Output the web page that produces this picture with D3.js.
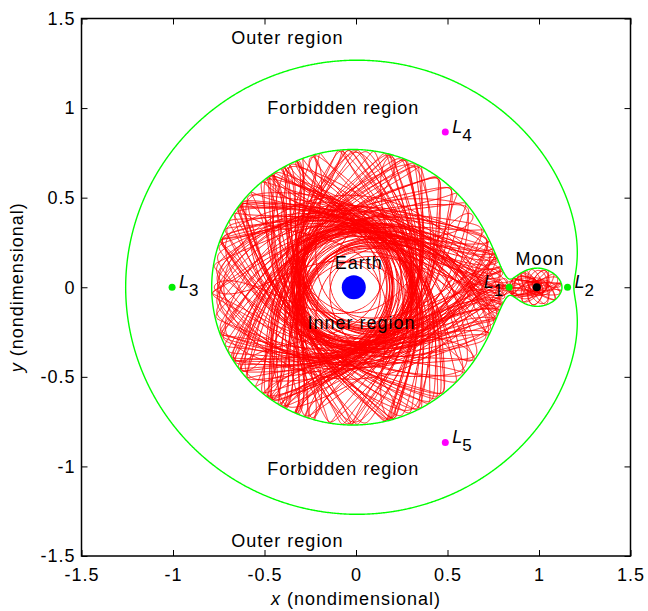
<!DOCTYPE html>
<html>
<head>
<meta charset="utf-8">
<script src="https://cdn.jsdelivr.net/npm/d3@7"></script>
<style>
  body { margin: 0; background: #fff; }
  svg text { font-family: Arial, "Liberation Sans", sans-serif; fill: #000; }
</style>
</head>
<body>
<svg id="chart" width="648" height="611"></svg>
<script>
// Earth-Moon mass ratio and the Jacobi constant of the orbit (between C2 and C1)
const mu = 0.01215;
const jacobi = 3.18;
// orbit start: x, y, direction of the velocity in degrees (speed comes from jacobi)
const orbitStart = [0.6, 0, 60];
const orbitTime = 1000;

const xTicks = [-1.5, -1, -0.5, 0, 0.5, 1, 1.5];
const yTicks = [-1.5, -1, -0.5, 0, 0.5, 1, 1.5];

const bodyNames = ["Earth", "Moon"];
const bodyX = [-0.01215, 0.98785];
const bodyY = [0, 0];

const libNames = ["1", "2", "3", "4", "5"];
const libX = [0.837, 1.156, -1.005, 0.488, 0.488];
const libY = [0, 0, 0, 0.866, -0.866];

const labelText = ["Outer region", "Forbidden region", "Earth", "Inner region", "Moon", "Forbidden region", "Outer region"];
const labelX = [-0.375, -0.07, 0.015, 0.03, 1.005, -0.07, -0.375];
const labelY = [1.36, 0.965, 0.1, -0.235, 0.125, -1.05, -1.45];

const svg = d3.select("#chart");

const xScale = d3.scaleLinear([-1.5, 1.5], [81.5, 630.5]);
const yScale = d3.scaleLinear([-1.5, 1.5], [556, 18.5]);

// effective potential, 2*Omega
function omega2(x, y) {
  const r1 = Math.max(Math.hypot(x + mu, y), 1e-6);
  const r2 = Math.max(Math.hypot(x - 1 + mu, y), 1e-6);
  return x * x + y * y + 2 * (1 - mu) / r1 + 2 * mu / r2;
}

function deriv(s) {
  const x = s[0], y = s[1], vx = s[2], vy = s[3];
  const r1 = Math.hypot(x + mu, y), r2 = Math.hypot(x - 1 + mu, y);
  const a = (1 - mu) / (r1 * r1 * r1), b = mu / (r2 * r2 * r2);
  return [vx, vy,
    2 * vy + x - a * (x + mu) - b * (x - 1 + mu),
    -2 * vx + y - a * y - b * y];
}

function rk4(s, h) {
  const k1 = deriv(s);
  const k2 = deriv(s.map((v, i) => v + h / 2 * k1[i]));
  const k3 = deriv(s.map((v, i) => v + h / 2 * k2[i]));
  const k4 = deriv(s.map((v, i) => v + h * k3[i]));
  return s.map((v, i) => v + h / 6 * (k1[i] + 2 * k2[i] + 2 * k3[i] + k4[i]));
}

// integrate the spacecraft orbit in the rotating frame
const speed = Math.sqrt(omega2(orbitStart[0], orbitStart[1]) - jacobi);
const ang = orbitStart[2] * Math.PI / 180;
let state = [orbitStart[0], orbitStart[1], speed * Math.cos(ang), speed * Math.sin(ang)];
const orbit = [[state[0], state[1]]];
let t = 0, steps = 0;
while (t < orbitTime && steps < 2000000) {
  const r1 = Math.hypot(state[0] + mu, state[1]), r2 = Math.hypot(state[0] - 1 + mu, state[1]);
  if (r1 < 0.02 || r2 < 0.005) break;
  const h = Math.min(0.01, 0.05 * Math.pow(Math.min(r1, r2), 1.5));
  state = rk4(state, h);
  t += h; steps++;
  const last = orbit[orbit.length - 1];
  if (Math.hypot(state[0] - last[0], state[1] - last[1]) > 0.002) orbit.push([state[0], state[1]]);
}

const line = d3.line().x(d => xScale(d[0])).y(d => yScale(d[1]));

svg.append("path")
  .attr("d", line(orbit))
  .attr("fill", "none")
  .attr("stroke", "#ff0000")
  .attr("stroke-width", 0.9);

// zero velocity curves: boundary of the forbidden region 2*Omega < C
const n = 601, step = 3 / (n - 1);
const grid = new Float64Array(n * n);
for (let j = 0; j < n; j++) {
  for (let i = 0; i < n; i++) {
    grid[j * n + i] = -omega2(-1.5 + i * step, -1.5 + j * step);
  }
}
const forbidden = d3.contours().size([n, n]).thresholds([-jacobi])(grid)[0];
const toData = p => [-1.5 + (p[0] - 0.5) * step, -1.5 + (p[1] - 0.5) * step];

forbidden.coordinates.forEach(poly => {
  poly.forEach(ring => {
    svg.append("path")
      .attr("d", line(ring.map(toData)) + "Z")
      .attr("fill", "none")
      .attr("stroke", "#00ff00")
      .attr("stroke-width", 1.4);
  });
});

// Earth with its clear zone, and the Moon
svg.append("circle")
  .attr("cx", xScale(bodyX[0])).attr("cy", yScale(bodyY[0]))
  .attr("r", xScale(0.12) - xScale(0))
  .attr("fill", "#fff");
svg.append("circle")
  .attr("cx", xScale(bodyX[0])).attr("cy", yScale(bodyY[0]))
  .attr("r", 12)
  .attr("fill", "#0000ff");
svg.append("circle")
  .attr("cx", xScale(bodyX[1])).attr("cy", yScale(bodyY[1]))
  .attr("r", 4)
  .attr("fill", "#000");

// libration points
libNames.forEach((name, i) => {
  const cx = xScale(libX[i]), cy = yScale(libY[i]);
  svg.append("circle")
    .attr("cx", cx).attr("cy", cy).attr("r", 3.5)
    .attr("fill", i < 3 ? "#00ee00" : "#ff00ff");
  const tx = svg.append("text")
    .attr("x", i === 0 ? cx - 6 : cx + 7)
    .attr("y", cy + 1)
    .attr("text-anchor", i === 0 ? "end" : "start")
    .attr("font-size", 18);
  tx.append("tspan").attr("font-style", "italic").text("L");
  tx.append("tspan").attr("dy", 8).attr("font-size", 17).text(name);
});

labelText.forEach((txt, i) => {
  svg.append("text")
    .attr("x", xScale(labelX[i]))
    .attr("y", yScale(labelY[i]))
    .attr("text-anchor", "middle")
    .attr("font-size", 18)
    .attr("letter-spacing", 1)
    .text(txt);
});

// axes box with inward ticks
const fmt = d => String(d);
svg.append("g")
  .attr("transform", `translate(0,${yScale(-1.5)})`)
  .call(d3.axisBottom(xScale).tickValues(xTicks).tickSizeInner(-6).tickSizeOuter(0).tickPadding(12).tickFormat(fmt));
svg.append("g")
  .attr("transform", `translate(${xScale(-1.5)},0)`)
  .call(d3.axisLeft(yScale).tickValues(yTicks).tickSizeInner(-6).tickSizeOuter(0).tickPadding(6).tickFormat(fmt));
svg.append("g")
  .attr("transform", `translate(0,${yScale(1.5)})`)
  .call(d3.axisTop(xScale).tickValues(xTicks).tickSizeInner(-6).tickSizeOuter(0).tickFormat(""));
svg.append("g")
  .attr("transform", `translate(${xScale(1.5)},0)`)
  .call(d3.axisRight(yScale).tickValues(yTicks).tickSizeInner(-6).tickSizeOuter(0).tickFormat(""));

svg.selectAll(".domain").remove();
svg.selectAll(".tick line").attr("stroke", "#000").attr("stroke-width", 1);
svg.selectAll(".tick text")
  .attr("font-size", 18)
  .attr("letter-spacing", 1)
  .attr("font-family", "Arial, 'Liberation Sans', sans-serif")
  .attr("fill", "#000");

svg.append("rect")
  .attr("x", xScale(-1.5)).attr("y", yScale(1.5))
  .attr("width", xScale(1.5) - xScale(-1.5))
  .attr("height", yScale(-1.5) - yScale(1.5))
  .attr("fill", "none")
  .attr("stroke", "#000")
  .attr("stroke-width", 1.5);

// axis titles
const xt = svg.append("text")
  .attr("x", xScale(0)).attr("y", 605)
  .attr("text-anchor", "middle").attr("font-size", 18).attr("letter-spacing", 1);
xt.append("tspan").attr("font-style", "italic").text("x");
xt.append("tspan").text(" (nondimensional)");

const yt = svg.append("text")
  .attr("transform", `translate(23,${yScale(0)}) rotate(-90)`)
  .attr("text-anchor", "middle").attr("font-size", 18).attr("letter-spacing", 1);
yt.append("tspan").attr("font-style", "italic").text("y");
yt.append("tspan").text(" (nondimensional)");
</script>
</body>
</html>
